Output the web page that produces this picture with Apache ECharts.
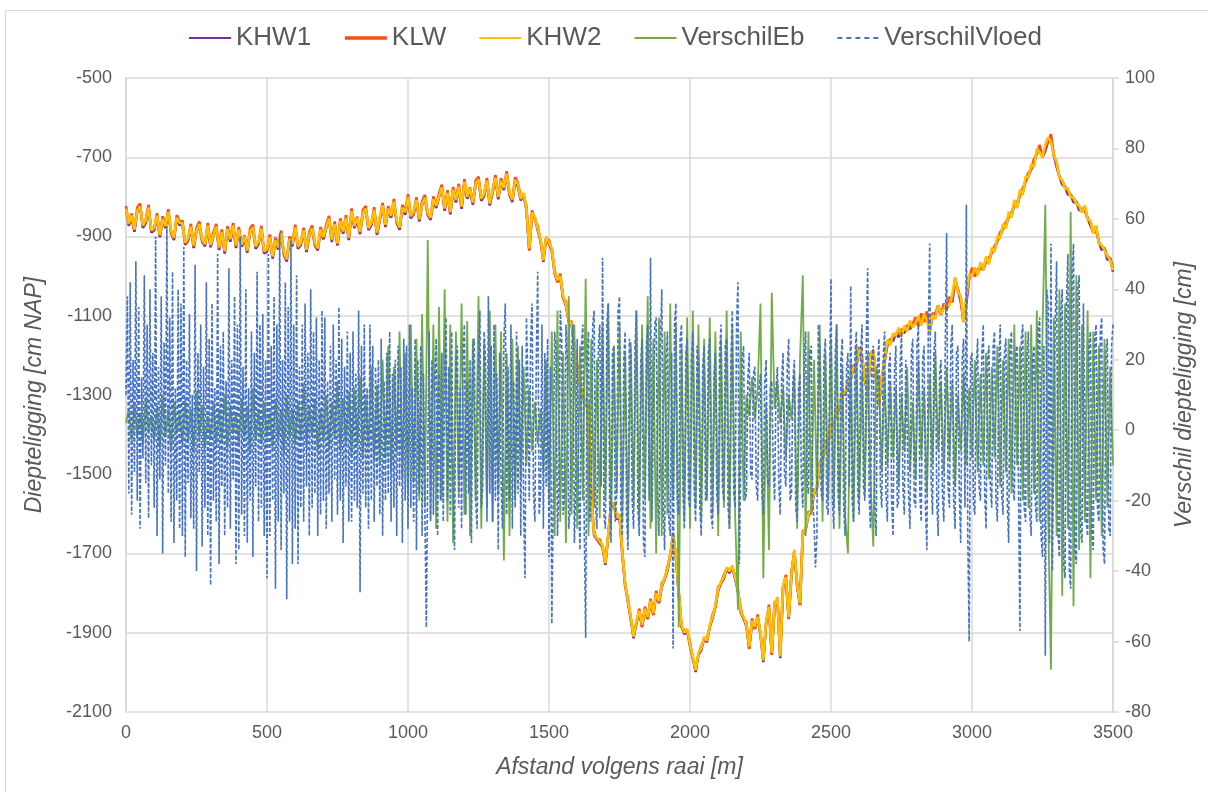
<!DOCTYPE html>
<html><head><meta charset="utf-8">
<script src="https://cdn.jsdelivr.net/npm/echarts@6/dist/echarts.min.js"></script>
<style>html,body{margin:0;padding:0;background:#fff}#c{width:1208px;height:792px}</style>
</head><body><div id="c"></div>
<script>
// sampling distance along the transect (m) between successive values
const depthStep = 10;   // KHW1, KLW, KHW2, VerschilEb
const vloedStep = 5;    // VerschilVloed
const xTicks = [0, 500, 1000, 1500, 2000, 2500, 3000, 3500];
const leftTicks = [-2100, -1900, -1700, -1500, -1300, -1100, -900, -700, -500];
const rightTicks = [-80, -60, -40, -20, 0, 20, 40, 60, 80, 100];
const seriesNames = ['KHW1', 'KLW', 'KHW2', 'VerschilEb', 'VerschilVloed'];

// depth [cm NAP], one value every 10 m from 0 to 3500 m
const KHW1 = [
-832,-873,-853,-888,-836,-826,-878,-866,-829,-890,
-884,-850,-902,-858,-879,-840,-892,-909,-855,-871,
-869,-921,-911,-877,-929,-887,-871,-913,-925,-875,
-927,-899,-877,-934,-891,-943,-883,-913,-875,-929,
-885,-926,-906,-941,-889,-879,-931,-919,-882,-943,
-938,-904,-956,-912,-933,-894,-946,-963,-909,-925,
-879,-931,-921,-887,-939,-897,-881,-923,-935,-885,
-907,-879,-857,-914,-871,-923,-863,-893,-855,-909,
-838,-879,-859,-894,-842,-832,-884,-872,-835,-896,
-858,-824,-876,-832,-853,-814,-866,-883,-829,-845,
-802,-854,-844,-810,-862,-820,-804,-846,-858,-808,
-828,-800,-778,-835,-792,-844,-784,-814,-776,-830,
-764,-805,-785,-820,-768,-758,-810,-798,-761,-822,
-788,-754,-806,-762,-783,-744,-796,-813,-759,-775,
-809,-794,-834,-934,-844,-854,-884,-909,-964,-904,
-919,-934,-994,-1014,-1004,-1054,-1074,-1114,-1124,-1174,
-1234,-1274,-1304,-1324,-1334,-1564,-1654,-1664,-1674,-1684,
-1729,-1654,-1584,-1574,-1614,-1604,-1704,-1779,-1824,-1864,
-1914,-1874,-1849,-1884,-1844,-1864,-1824,-1854,-1804,-1824,
-1784,-1764,-1744,-1704,-1659,-1704,-1804,-1884,-1904,-1894,
-1934,-1964,-1999,-1954,-1944,-1914,-1924,-1884,-1864,-1834,
-1794,-1774,-1764,-1739,-1749,-1734,-1764,-1794,-1849,-1864,
-1884,-1939,-1874,-1889,-1864,-1904,-1974,-1874,-1839,-1954,
-1834,-1814,-1964,-1784,-1764,-1864,-1754,-1694,-1784,-1829,
-1654,-1639,-1604,-1594,-1549,-1534,-1479,-1464,-1424,-1419,
-1384,-1374,-1344,-1334,-1299,-1299,-1274,-1259,-1234,-1224,
-1189,-1204,-1264,-1294,-1204,-1189,-1264,-1324,-1264,-1214,
-1174,-1159,-1164,-1144,-1154,-1134,-1144,-1124,-1134,-1119,
-1114,-1124,-1104,-1114,-1099,-1139,-1104,-1094,-1084,-1096,
-1079,-1084,-1062,-1064,-1014,-1034,-1064,-1114,-1069,-1004,
-989,-999,-992,-979,-984,-962,-964,-939,-934,-909,
-899,-879,-874,-849,-849,-819,-824,-794,-789,-759,
-749,-729,-714,-689,-679,-699,-684,-659,-652,-694,
-724,-749,-769,-774,-794,-794,-814,-812,-834,-832,
-834,-854,-872,-889,-884,-914,-934,-929,-959,-954,
-989];

const KLW = [
-823,-869,-842,-884,-827,-817,-874,-858,-820,-886,
-880,-841,-898,-849,-875,-831,-888,-905,-846,-862,
-860,-917,-907,-868,-925,-878,-862,-909,-921,-866,
-923,-890,-868,-930,-882,-939,-874,-905,-866,-925,
-876,-922,-897,-937,-880,-870,-927,-915,-873,-939,
-934,-895,-952,-903,-929,-885,-942,-959,-900,-916,
-870,-927,-917,-878,-935,-888,-872,-919,-931,-876,
-903,-870,-848,-910,-862,-919,-854,-889,-846,-905,
-829,-875,-850,-890,-833,-823,-880,-868,-826,-892,
-854,-815,-872,-823,-849,-805,-862,-879,-820,-836,
-793,-850,-840,-801,-858,-811,-795,-842,-854,-799,
-824,-791,-769,-831,-783,-840,-775,-806,-767,-826,
-755,-801,-776,-816,-759,-749,-806,-794,-752,-818,
-784,-745,-802,-753,-779,-735,-792,-809,-750,-766,
-799,-796,-824,-936,-834,-856,-874,-911,-954,-906,
-909,-936,-984,-1016,-994,-1056,-1064,-1116,-1114,-1176,
-1224,-1276,-1294,-1326,-1324,-1566,-1644,-1666,-1664,-1686,
-1719,-1656,-1574,-1576,-1604,-1606,-1694,-1781,-1814,-1866,
-1904,-1876,-1839,-1886,-1834,-1866,-1814,-1856,-1794,-1826,
-1774,-1766,-1734,-1706,-1649,-1706,-1794,-1886,-1894,-1896,
-1924,-1966,-1989,-1956,-1934,-1916,-1914,-1886,-1854,-1836,
-1784,-1776,-1754,-1741,-1739,-1736,-1754,-1796,-1839,-1866,
-1874,-1941,-1864,-1891,-1854,-1906,-1964,-1876,-1829,-1956,
-1824,-1816,-1954,-1786,-1754,-1866,-1744,-1696,-1774,-1831,
-1644,-1641,-1594,-1596,-1539,-1536,-1469,-1466,-1414,-1421,
-1374,-1376,-1334,-1336,-1289,-1301,-1264,-1261,-1224,-1226,
-1179,-1206,-1254,-1296,-1194,-1191,-1254,-1326,-1254,-1216,
-1164,-1161,-1154,-1146,-1144,-1136,-1134,-1126,-1124,-1121,
-1104,-1126,-1094,-1116,-1089,-1141,-1094,-1096,-1074,-1098,
-1069,-1086,-1052,-1066,-1004,-1036,-1054,-1116,-1059,-1006,
-979,-1001,-982,-981,-974,-964,-954,-941,-924,-911,
-889,-881,-864,-851,-839,-821,-814,-796,-779,-761,
-739,-731,-704,-691,-669,-701,-674,-661,-642,-696,
-714,-751,-759,-776,-784,-796,-804,-814,-824,-834,
-824,-856,-862,-891,-874,-916,-924,-931,-949,-956,
-979];

const KHW2 = [
-830,-867,-847,-882,-834,-824,-872,-860,-827,-884,
-878,-848,-896,-856,-873,-838,-886,-903,-853,-865,
-867,-915,-905,-875,-923,-885,-869,-907,-919,-873,
-921,-897,-875,-928,-889,-937,-881,-907,-873,-923,
-883,-920,-900,-935,-887,-877,-925,-913,-880,-937,
-932,-902,-950,-910,-927,-892,-940,-957,-907,-919,
-877,-925,-915,-885,-933,-895,-879,-917,-929,-883,
-901,-877,-855,-908,-869,-917,-861,-887,-853,-903,
-836,-873,-853,-888,-840,-830,-878,-866,-833,-890,
-852,-822,-870,-830,-847,-812,-860,-877,-827,-839,
-800,-848,-838,-808,-856,-818,-802,-840,-852,-806,
-822,-798,-776,-829,-790,-838,-782,-808,-774,-824,
-762,-799,-779,-814,-766,-756,-804,-792,-759,-816,
-782,-752,-800,-760,-777,-742,-790,-807,-757,-769,
-805,-790,-830,-930,-840,-850,-880,-905,-960,-900,
-915,-930,-990,-1010,-1000,-1050,-1070,-1110,-1120,-1170,
-1230,-1270,-1300,-1320,-1330,-1560,-1650,-1660,-1670,-1680,
-1725,-1650,-1580,-1570,-1610,-1600,-1700,-1775,-1820,-1860,
-1910,-1870,-1845,-1880,-1840,-1860,-1820,-1850,-1800,-1820,
-1780,-1760,-1740,-1700,-1655,-1700,-1800,-1880,-1900,-1890,
-1930,-1960,-1995,-1950,-1940,-1910,-1920,-1880,-1860,-1830,
-1790,-1770,-1760,-1735,-1745,-1730,-1760,-1790,-1845,-1860,
-1880,-1935,-1870,-1885,-1860,-1900,-1970,-1870,-1835,-1950,
-1830,-1810,-1960,-1780,-1760,-1860,-1750,-1690,-1780,-1825,
-1650,-1635,-1600,-1590,-1545,-1530,-1475,-1460,-1420,-1415,
-1380,-1370,-1340,-1330,-1295,-1295,-1270,-1255,-1230,-1220,
-1185,-1200,-1260,-1290,-1200,-1185,-1260,-1320,-1260,-1210,
-1160,-1175,-1145,-1150,-1130,-1152,-1125,-1140,-1112,-1130,
-1118,-1100,-1125,-1095,-1112,-1140,-1098,-1108,-1075,-1095,
-1082,-1068,-1075,-1045,-1005,-1040,-1050,-1115,-1050,-995,
-1000,-978,-998,-965,-985,-950,-970,-928,-940,-898,
-905,-868,-880,-838,-852,-808,-828,-782,-795,-748,
-752,-718,-725,-678,-688,-700,-668,-650,-660,-695,
-712,-752,-758,-780,-778,-800,-802,-818,-822,-840,
-822,-858,-860,-892,-872,-918,-922,-935,-948,-960,
-985];

// depth difference at ebb [cm], one value every 10 m
const VerschilEb = [
2,6,-3,8,-2,5,-4,9,0,4,
-3,7,-5,10,-2,6,-6,8,-1,5,
-4,9,-3,6,-6,11,-2,7,-5,4,
-2,8,-4,6,-3,10,-5,7,-1,5,
-4,9,-2,7,-6,12,-3,6,-4,8,
-2,5,-5,9,-3,6,-7,10,-2,6,
-4,8,-3,13,-5,7,-2,9,-6,6,
-3,10,-5,8,-2,14,-6,9,-4,11,
-7,12,-4,15,-8,10,-5,18,-9,13,
-10,20,-8,24,-12,18,-6,28,-14,22,
-18,30,-15,26,-20,33,-22,54,-25,30,
-28,35,-20,40,-26,30,-32,28,-18,36,
-24,31,-30,26,-20,38,-28,25,-22,34,
-26,30,-18,28,-37,22,-30,26,-20,24,
-14,18,-10,12,-6,8,-4,6,-12,20,
-20,28,-30,34,-26,22,-32,38,-24,30,
-28,24,-20,43,-30,26,-22,20,-25,30,
-20,36,-28,24,-18,30,-26,22,-30,25,
-22,34,-26,30,-20,38,-28,26,-35,32,
-30,28,-24,36,-20,30,-56,24,-26,32,
-28,34,-22,30,-26,26,-20,32,-24,28,
-30,26,-22,34,-28,30,-24,-51,28,-20,
10,4,15,3,12,36,-42,8,-34,39,
6,14,2,12,-8,10,3,16,-28,20,
44,-30,28,-24,20,-18,30,-26,22,-20,
26,-22,30,-28,18,-24,-35,20,-26,24,
-20,16,-18,22,-14,-33,18,14,-12,16,
-10,14,-8,12,-16,10,-6,18,-12,8,
-14,20,-8,12,-18,16,-10,22,-6,14,
-12,18,-8,14,-16,10,-6,16,-10,12,
-8,20,-12,16,-10,22,-14,18,-8,24,
-16,20,-12,26,-18,30,-10,24,-20,28,
-22,30,-18,34,-26,28,64,-24,-68,32,
-30,40,-47,36,-28,62,-50,44,-34,30,
-26,34,-42,28,-20,24,-30,26,-22,18,
-10];

// depth difference at flood [cm], one value every 5 m
const VerschilVloed = [
10,38,-18,42,-24,20,-12,48,-20,35,-28,15,-8,44,-15,30,-25,40,-10,22,
-22,55,-30,18,-14,38,-35,25,-10,58,-18,32,-26,45,-32,12,-20,40,-28,36,
-30,52,-36,20,-15,33,-25,10,-28,47,-40,22,-12,30,-33,18,-22,42,-30,26,
-44,36,-20,12,-26,50,-38,24,-16,28,-30,14,-22,46,-28,20,-14,38,-38,30,
-34,55,-24,18,-30,40,-32,12,-20,28,-36,22,-16,45,-26,30,-22,33,-30,20,
-42,50,-30,24,-20,38,-45,30,-26,56,-34,20,-18,42,-48,35,-26,54,-38,30,
-28,44,-38,18,-22,30,-26,36,-16,22,-30,40,-22,28,-18,32,-30,20,-24,34,
-20,32,-28,14,-18,24,-26,30,-14,20,-24,35,-20,26,-32,18,-16,28,-26,22,
-26,28,-20,16,-22,34,-46,24,-18,30,-22,12,-28,30,-20,24,-26,18,-16,20,
-24,26,-30,14,-20,22,-18,28,-26,16,-22,20,-30,24,-16,18,-32,26,-20,24,
-28,30,-22,12,-26,26,-34,20,-18,24,-30,16,-24,-56,-10,28,-26,20,-24,14,
26,-30,16,-20,22,-26,14,32,-20,18,-24,28,-16,-34,20,24,-22,12,-28,22,
30,-24,14,-18,20,-32,24,26,-20,-28,18,34,-22,-16,28,20,-26,38,-18,24,
-26,30,-20,16,-34,22,-14,-28,26,36,-24,18,-20,30,-28,14,-22,28,-18,20,
-30,24,-22,-42,32,14,-20,26,36,-18,-26,20,45,-24,-18,30,-28,22,-16,26,
-36,18,-55,-20,28,22,-30,-16,34,26,-24,-18,30,20,-28,-22,22,30,-32,-14,
26,-20,-34,24,30,-28,-59,20,28,-26,-18,30,34,-22,-28,24,30,-16,49,-24,
-28,30,36,-20,-32,22,24,-26,-18,34,38,-22,-30,20,28,-24,-34,26,22,-20,
-28,24,34,-22,-30,18,26,-32,-36,24,30,-20,49,-26,-26,30,32,-18,-30,24,
40,-22,-34,20,28,-26,-30,22,-62,30,36,-20,-24,26,30,-18,-28,22,26,-20,
-22,20,28,-18,-26,24,20,-22,-30,18,24,-20,-18,22,26,-24,-28,16,22,-18,
-24,22,30,-16,-20,24,26,-22,-28,20,34,-18,-22,30,42,-38,-38,20,24,-20,
-18,14,22,-12,-14,16,18,-16,-20,12,16,-18,-24,14,20,-14,-16,12,14,-10,
-20,12,18,-16,-24,14,22,-12,-16,18,26,-20,-18,14,20,-22,-26,12,16,-14,
-22,20,28,-16,-18,22,24,-20,-26,-39,-30,30,22,-18,-20,20,26,-22,-24,14,
43,-20,-28,22,30,-18,-24,20,26,-22,-30,18,22,-16,41,-20,-26,22,28,-18,
-24,22,30,-16,-20,24,46,-18,-28,20,24,-22,-30,18,26,-16,-22,20,28,-18,
-26,18,22,-20,-30,16,24,-22,-20,18,28,-16,-24,20,20,-18,-28,22,26,-20,
-22,24,30,-18,-26,20,24,-22,-34,28,53,-14,-24,22,28,-20,-30,16,20,-18,
-26,22,56,-16,-22,24,30,-20,-28,22,24,-18,-32,20,26,-22,64,-30,-60,20,
22,-20,-24,18,26,-16,-20,22,30,-18,-28,20,24,-16,-22,24,28,-20,-26,18,
30,-18,-24,22,26,-20,-32,24,28,-16,-20,22,24,-18,-57,26,30,-22,-26,20,
28,-24,-30,20,24,-22,-26,28,32,-30,-36,24,-64,40,36,-32,53,-40,-40,30,
48,-30,-36,34,40,-38,-42,36,50,-40,-45,44,53,-34,-38,40,44,-28,-32,36,
36,-26,-30,24,28,-30,-34,26,30,-22,-26,28,32,-34,-38,22,26,-28,-30,24,
30];

const toPairs = (arr, step) => arr.map((v, i) => [i * step, v]);
const textColor = '#595959';
const gridColor = '#D9D9D9';
const font = 'Liberation Sans, Arial, sans-serif';
const colors = {KHW1: '#7030A0', KLW: '#FF4A1C', KHW2: '#FFC000', VerschilEb: '#70AD47', VerschilVloed: '#4472C4'};

const chart = echarts.init(document.getElementById('c'), null, {renderer: 'canvas'});
chart.setOption({
  animation: false,
  backgroundColor: '#fff',
  graphic: [{
    type: 'rect', left: 3, top: 8, silent: true, z: -10,
    shape: {width: 1215, height: 800},
    style: {fill: 'none', stroke: '#D9D9D9', lineWidth: 1.2}
  }],
  legend: {
    top: 25, left: 188, padding: 0,
    itemWidth: 42, itemHeight: 14, itemGap: 32,
    itemStyle: {opacity: 0, color: 'rgba(0,0,0,0)', borderWidth: 0},
    textStyle: {fontFamily: font, fontSize: 26, color: textColor},
    data: [
      {name: seriesNames[0], lineStyle: {width: 2}},
      {name: seriesNames[1], lineStyle: {width: 3.5}},
      {name: seriesNames[2], lineStyle: {width: 2}},
      {name: seriesNames[3], lineStyle: {width: 2.2}},
      {name: seriesNames[4], lineStyle: {width: 2, type: [5, 4]}}
    ]
  },
  grid: {left: 126, right: 95, top: 78, bottom: 80, containLabel: false},
  xAxis: {
    type: 'value', min: xTicks[0], max: xTicks[xTicks.length - 1], interval: 500,
    name: 'Afstand volgens raai [m]', nameLocation: 'middle', nameGap: 44,
    nameTextStyle: {fontFamily: font, fontSize: 23, fontStyle: 'italic', color: textColor},
    axisLine: {show: true, lineStyle: {color: gridColor, width: 1.5}},
    axisTick: {show: false},
    axisLabel: {fontFamily: font, fontSize: 18, color: textColor, margin: 12,
      formatter: v => xTicks.includes(v) ? String(v) : ''},
    splitLine: {show: true, lineStyle: {color: gridColor, width: 1.5}}
  },
  yAxis: [{
    type: 'value', position: 'left', min: leftTicks[0], max: leftTicks[leftTicks.length - 1], interval: 200,
    name: 'Diepteligging [cm NAP]', nameLocation: 'middle', nameGap: 80, nameRotate: 90,
    nameTextStyle: {fontFamily: font, fontSize: 23, fontStyle: 'italic', color: textColor},
    axisLine: {show: true, lineStyle: {color: gridColor, width: 1.5}},
    axisTick: {show: false},
    axisLabel: {fontFamily: font, fontSize: 18, color: textColor, margin: 14, formatter: v => String(v)},
    splitLine: {show: true, lineStyle: {color: gridColor, width: 1.5}}
  }, {
    type: 'value', position: 'right', min: rightTicks[0], max: rightTicks[rightTicks.length - 1], interval: 20,
    name: 'Verschil diepteligging [cm]', nameLocation: 'middle', nameGap: 60, nameRotate: 90,
    nameTextStyle: {fontFamily: font, fontSize: 23, fontStyle: 'italic', color: textColor},
    axisLine: {show: true, lineStyle: {color: gridColor, width: 1.5}},
    axisTick: {show: true, inside: false, length: 6, lineStyle: {color: gridColor, width: 1.5}},
    axisLabel: {fontFamily: font, fontSize: 18, color: textColor, margin: 12, formatter: v => String(v)},
    splitLine: {show: false}
  }],
  series: [
    {name: 'KHW1', type: 'line', yAxisIndex: 0, data: toPairs(KHW1, depthStep), symbol: 'none', showSymbol: false,
      lineStyle: {color: colors.KHW1, width: 2.6}, itemStyle: {color: colors.KHW1}},
    {name: 'KLW', type: 'line', yAxisIndex: 0, data: toPairs(KLW, depthStep), symbol: 'none', showSymbol: false,
      lineStyle: {color: colors.KLW, width: 2.6}, itemStyle: {color: colors.KLW}},
    {name: 'KHW2', type: 'line', yAxisIndex: 0, data: toPairs(KHW2, depthStep), symbol: 'none', showSymbol: false,
      lineStyle: {color: colors.KHW2, width: 2.6}, itemStyle: {color: colors.KHW2}},
    {name: 'VerschilEb', type: 'line', yAxisIndex: 1, data: toPairs(VerschilEb, depthStep), symbol: 'none', showSymbol: false,
      lineStyle: {color: colors.VerschilEb, width: 1.8}, itemStyle: {color: colors.VerschilEb}},
    {name: 'VerschilVloed', type: 'line', yAxisIndex: 1, data: toPairs(VerschilVloed, vloedStep), symbol: 'none', showSymbol: false,
      lineStyle: {color: colors.VerschilVloed, width: 1.6, type: [4, 2]}, itemStyle: {color: colors.VerschilVloed}}
  ]
});
</script>
</body></html>
